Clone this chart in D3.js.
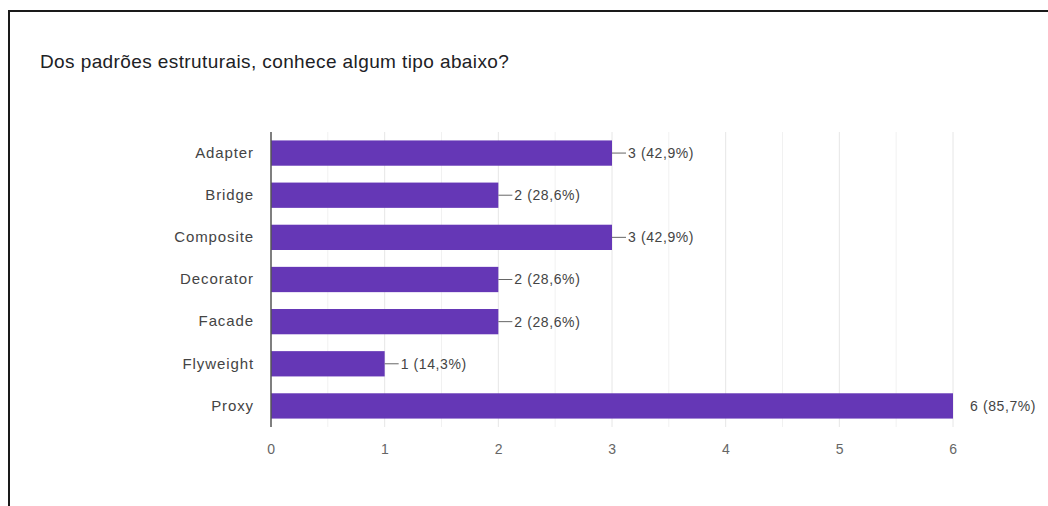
<!DOCTYPE html>
<html>
<head>
<meta charset="utf-8">
<script src="https://cdn.jsdelivr.net/npm/d3@7"></script>
<style>
  html, body { margin: 0; padding: 0; background: #fff; }
  svg { display: block; }
  text { font-family: "Liberation Sans", Arial, sans-serif; }
</style>
</head>
<body>
<div id="box"></div>
<script>
// chart data
var title = "Dos padrões estruturais, conhece algum tipo abaixo?";
var categories = ["Adapter", "Bridge", "Composite", "Decorator", "Facade", "Flyweight", "Proxy"];
var counts = [3, 2, 3, 2, 2, 1, 6];
var percents = [42.9, 28.6, 42.9, 28.6, 28.6, 14.3, 85.7];
var xTicks = [0, 1, 2, 3, 4, 5, 6];

var width = 1048, height = 506;

var svg = d3.select("#box")
    .append("svg")
    .attr("width", width)
    .attr("height", height);

// frame (screenshot border)
svg.append("path")
    .attr("d", "M9,506 V11 H1048")
    .attr("fill", "none")
    .attr("stroke", "#1a1a1a")
    .attr("stroke-width", 2);

svg.append("text")
    .attr("x", 40)
    .attr("y", 68)
    .attr("font-size", 19)
    .attr("letter-spacing", 0.4)
    .attr("font-family", "Roboto, 'Noto Sans', sans-serif")
    .attr("fill", "#202124")
    .text(title);

var plotLeft = 271, plotRight = 953, plotTop = 132, plotBottom = 427;

var x = d3.scaleLinear().domain([0, 6]).range([plotLeft, plotRight]);
var y = d3.scaleBand().domain(categories).range([plotTop, plotBottom]).paddingInner(0.4).paddingOuter(0.2);

// gridlines (major + minor)
var grid = svg.append("g");
grid.selectAll("line")
    .data(d3.range(0.5, 6.01, 0.5))
    .enter()
    .append("line")
    .attr("x1", function(d) { return x(d); })
    .attr("x2", function(d) { return x(d); })
    .attr("y1", plotTop)
    .attr("y2", plotBottom)
    .attr("stroke", function(d) { return d % 1 === 0 ? "#e6e6e6" : "#f1f1f1"; })
    .attr("stroke-width", 1);

// bars
svg.selectAll(".bar")
    .data(categories)
    .enter()
    .append("rect")
    .attr("class", "bar")
    .attr("x", x(0))
    .attr("y", function(d) { return y(d); })
    .attr("width", function(d, i) { return x(counts[i]) - x(0); })
    .attr("height", y.bandwidth())
    .attr("fill", "#6537b6");

// zero axis line
svg.append("line")
    .attr("x1", x(0)).attr("x2", x(0))
    .attr("y1", plotTop).attr("y2", plotBottom)
    .attr("stroke", "#555")
    .attr("stroke-width", 1.5);

// category labels
var yAxis = svg.append("g")
    .attr("transform", "translate(" + (x(0) - 17) + ",0)")
    .call(d3.axisLeft(y).tickSize(0).tickPadding(0));
yAxis.select(".domain").remove();
yAxis.selectAll("text")
    .attr("font-size", 15)
    .attr("letter-spacing", 0.9)
    .attr("fill", "#444")
    .attr("font-family", "'Liberation Sans', Arial, sans-serif");

// x axis tick labels
var xAxis = svg.append("g")
    .attr("transform", "translate(0," + (plotBottom + 12) + ")")
    .call(d3.axisBottom(x).tickValues(xTicks).tickFormat(d3.format("d")).tickSize(0).tickPadding(5));
xAxis.select(".domain").remove();
xAxis.selectAll("text")
    .attr("font-size", 14)
    .attr("letter-spacing", 0.6)
    .attr("fill", "#666")
    .attr("font-family", "'Liberation Sans', Arial, sans-serif");

// value labels with leader lines
function fmt(i) {
    return counts[i] + " (" + percents[i].toFixed(1).replace(".", ",") + "%)";
}
var lbl = svg.selectAll(".lbl")
    .data(categories)
    .enter()
    .append("g")
    .attr("class", "lbl");

lbl.filter(function(d, i) { return counts[i] < 6; })
    .append("line")
    .attr("x1", function(d, i) { return x(counts[i]); })
    .attr("x2", function(d, i) { return x(counts[i]) + 14; })
    .attr("y1", function(d) { return y(d) + y.bandwidth() / 2; })
    .attr("y2", function(d) { return y(d) + y.bandwidth() / 2; })
    .attr("stroke", "#666")
    .attr("stroke-width", 1);

lbl.append("text")
    .attr("x", function(d, i) { return counts[i] < 6 ? x(counts[i]) + 16 : x(counts[i]) + 17; })
    .attr("y", function(d) { return y(d) + y.bandwidth() / 2; })
    .attr("dy", "0.35em")
    .attr("font-size", 14)
    .attr("letter-spacing", 0.6)
    .attr("fill", "#444")
    .text(function(d, i) { return fmt(i); });
</script>
</body>
</html>
